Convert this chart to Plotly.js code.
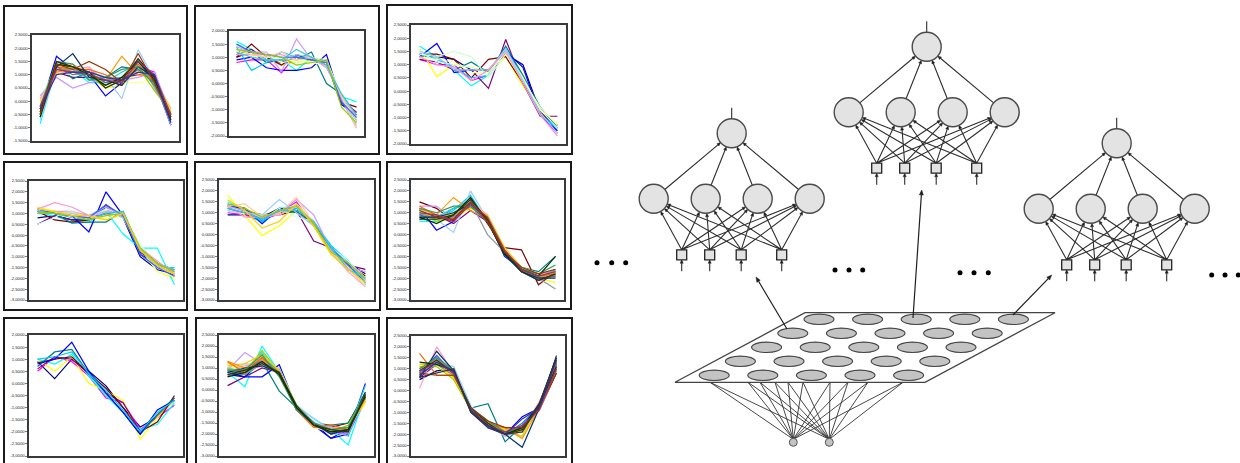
<!DOCTYPE html>
<html><head><meta charset="utf-8">
<script src="https://cdn.plot.ly/plotly-3.0.1.min.js"></script>
<style>html,body{margin:0;padding:0;background:#fff}#chart{width:1240px;height:463px}</style>
</head><body><div id="chart"></div>
<script>
// ---------------- DATA ----------------
const categories = [1,2,3,4,5,6,7,8,9];
const tickValues = [2.5,2,1.5,1,0.5,0,-0.5,-1,-1.5,-2,-2.5,-3];
const tickLabels = ["2,5000","2,0000","1,5000","1,0000","0,5000","0,0000","-0,5000","-1,0000","-1,5000","-2,0000","-2,5000","-3,0000"];
const seriesColors = ["#000080","#FF00FF","#FFFF00","#00FFFF","#800080","#800000","#008080","#0000FF","#00CCFF","#CCFFFF","#CCFFCC","#FFFF99","#99CCFF","#FF99CC","#CC99FF","#FFCC99","#3366FF","#33CCCC","#99CC00","#FFCC00","#FF9900","#FF6600","#666699","#969696","#003366","#339966","#003300","#333300","#993300","#993366","#333399","#333333"];
const panelRanges = [[-1.5,2.5],[-2,2],[-2,2.5],[-3,2.5],[-3,2.5],[-3,2.5],[-3,2],[-3,2.5],[-3,2.5]];

const panel1 = [
[-0.5,1.4,1.3,1.0,0.9,0.8,1.3,0.8,-0.9],[-0.2,1.2,1.1,1.2,0.8,0.7,1.3,1.1,-0.6],[0.0,1.0,1.3,1.0,0.5,0.6,1.1,0.7,-0.4],
[-0.85,1.3,1.2,0.7,0.7,0.7,1.5,1.0,-0.7],[-0.3,1.1,0.9,0.9,0.8,0.9,1.0,1.0,-0.5],[-0.6,1.5,1.3,1.1,0.8,0.6,1.6,0.8,-0.6],
[-0.4,1.4,0.85,1.1,0.9,1.3,1.2,0.9,-0.5],[-0.3,1.7,1.2,1.0,0.2,0.7,1.5,0.9,-0.9],[-0.5,1.2,1.3,0.8,0.8,0.7,1.6,0.6,-0.7],
[0.2,1.1,1.0,1.2,0.9,1.0,1.2,1.0,-0.3],[0.1,1.3,1.2,1.0,1.0,0.9,1.4,0.6,-0.2],[0.0,1.1,1.0,1.1,0.8,0.7,0.7,0.8,-0.4],
[-0.7,1.2,1.3,0.9,0.9,0.1,1.95,0.8,-0.9],[0.1,1.0,1.2,1.3,0.7,0.8,1.3,0.9,-0.3],[0.2,0.9,0.5,0.7,0.8,0.8,0.9,1.1,-0.5],
[0.0,1.3,1.4,1.0,0.6,0.9,1.1,0.8,-0.3],[-0.2,1.3,1.1,1.0,0.6,0.9,1.3,1.0,-0.8],[-0.5,1.2,1.1,0.9,0.7,1.1,1.4,0.8,-0.6],
[-0.4,1.4,1.3,1.0,0.5,0.8,1.3,0.4,-0.4],[-0.1,1.2,1.3,1.1,0.6,0.9,1.2,0.8,-0.3],[-0.3,1.1,1.2,1.0,0.8,1.7,1.0,0.9,-0.5],
[-0.4,1.3,1.2,1.2,1.0,0.7,1.4,0.7,-0.6],[-0.5,1.3,1.0,1.1,0.7,0.8,1.2,0.7,-0.8],[-0.6,1.2,1.2,1.0,0.8,0.9,1.6,0.5,-0.5],
[-0.3,1.3,1.8,0.9,0.8,0.6,1.3,0.9,-0.7],[-0.2,1.5,1.4,0.8,0.9,1.2,1.3,0.6,-0.5],[-0.6,1.4,1.3,1.0,0.6,0.9,1.5,0.8,-0.6],
[-0.4,1.5,1.3,1.1,0.5,0.8,1.6,0.9,-0.7],[-0.5,1.4,1.2,1.5,1.2,0.7,1.8,0.7,-0.6],[-0.2,1.2,1.1,1.0,0.8,0.7,1.5,1.0,-0.5],
[-0.3,1.0,1.1,1.1,0.9,0.8,1.1,1.0,-0.8]
];
const panel2 = [
[1.0,1.2,1.0,0.7,1.0,0.9,0.8,-0.8,-1.2],[0.8,0.9,0.9,0.4,1.1,0.9,0.9,-0.7,-1.1],[1.2,1.1,1.0,0.7,0.8,0.9,0.9,-0.6,-1.5],
[1.6,1.3,0.9,0.9,0.5,1.0,0.8,-0.5,-0.7],[1.1,1.3,0.9,0.8,1.0,0.9,0.9,-0.6,-1.1],[1.0,1.5,1.0,0.7,1.1,0.9,0.8,-0.7,-0.9],
[1.3,1.2,0.8,0.9,0.9,1.2,0.0,-0.4,-1.2],[0.9,1.0,0.6,0.5,0.5,0.6,1.1,-0.7,-1.4],[1.4,0.5,0.8,1.2,1.0,1.0,0.7,-0.5,-1.5],
[1.2,1.1,1.0,1.0,0.9,1.0,0.8,-0.4,-1.3],[1.3,1.2,1.0,1.0,0.8,1.0,0.9,-0.5,-1.4],[1.2,1.0,1.1,0.8,0.9,0.8,0.7,-0.6,-1.5],
[1.5,1.2,0.9,0.9,1.1,1.0,0.6,-0.5,-1.6],[1.1,1.1,1.1,1.1,0.9,1.0,0.6,-0.4,-1.3],[1.4,1.2,1.2,0.45,1.7,0.9,0.7,-0.6,-1.7],
[1.3,1.1,1.0,1.2,0.9,1.0,0.8,-0.5,-1.7],[1.5,1.2,1.1,1.0,1.0,0.9,0.8,-0.7,-1.3],[1.2,1.0,0.9,0.9,1.3,1.0,0.7,-0.4,-1.2],
[1.3,1.2,1.1,1.0,0.7,0.8,0.9,-0.9,-1.5]
];
const panel3 = [
[1.3,1.3,1.2,0.8,0.8,1.4,1.0,-0.8,-1.4],[1.2,1.0,1.0,0.4,0.6,1.5,0.4,-0.9,-1.6],[1.6,0.55,1.0,0.9,0.7,1.3,0.2,-0.7,-1.3],
[1.7,1.3,0.8,0.2,0.6,1.6,0.5,-0.9,-1.5],[1.2,1.1,0.8,0.8,0.1,1.95,0.3,-0.95,-0.95],[1.4,1.4,1.2,0.5,1.2,1.3,0.3,-0.8,-1.3],
[1.4,1.3,0.8,1.1,0.7,1.7,0.6,-0.6,-1.4],[1.3,1.8,0.7,0.8,0.8,1.5,0.9,-0.9,-1.5],[1.4,1.2,0.9,0.5,0.6,1.6,0.5,-0.9,-1.4],
[1.5,1.1,1.0,0.9,0.6,1.5,0.4,-0.7,-1.4],[1.4,1.3,1.5,1.3,0.5,1.4,0.4,-0.6,-1.3],[1.3,1.2,1.1,0.7,0.7,1.5,0.5,-0.7,-1.2],
[1.5,1.3,0.8,0.8,0.8,1.6,0.4,-0.8,-1.6],[1.3,1.0,0.9,0.4,0.8,1.5,0.3,-0.9,-1.7]
];
const panel4 = [
[0.8,0.9,0.7,0.7,1.4,0.8,-1.0,-1.6,-1.8],[1.1,1.0,0.9,0.8,1.0,0.9,-0.7,-1.4,-1.8],[1.3,1.1,1.0,0.9,0.7,1.0,-0.6,-1.7,-2.0],
[1.0,0.9,0.6,0.6,1.1,0.05,-0.6,-0.6,-2.3],[0.5,0.9,0.7,0.7,1.0,0.9,-0.8,-1.3,-1.6],[1.1,0.7,0.6,0.7,1.3,0.9,-0.6,-1.3,-1.9],
[1.1,1.0,0.55,0.6,0.6,1.1,-0.7,-1.5,-1.6],[1.1,1.0,0.9,0.15,2.0,0.9,-0.9,-1.3,-1.7],[1.2,1.0,1.0,0.9,1.2,0.8,-0.6,-1.5,-1.5],
[0.5,0.8,1.3,0.9,1.1,0.9,-0.4,-1.5,-1.8],[1.1,1.0,1.0,0.8,1.2,1.0,-0.5,-1.4,-1.7],[1.2,1.1,1.0,0.9,0.8,0.8,-0.6,-1.7,-1.9],
[1.0,1.1,1.0,0.8,1.1,0.8,-0.7,-1.3,-1.6],[1.2,1.5,1.3,0.9,1.1,1.0,-0.6,-1.2,-1.8],[1.0,1.1,1.1,0.9,1.3,0.9,-0.7,-1.3,-1.7],
[1.3,1.0,1.1,0.8,0.9,1.0,-0.6,-1.5,-1.8],[1.2,1.0,0.9,0.8,1.4,0.9,-0.9,-1.5,-1.9],[1.1,1.0,0.8,0.7,1.0,1.1,-0.7,-1.4,-1.6],
[1.0,1.0,0.9,0.7,0.9,1.0,-0.6,-1.3,-1.7],[1.2,1.1,0.9,0.9,0.7,1.0,-0.7,-1.4,-1.8]
];
const panel5 = [
[0.9,0.9,0.8,1.2,1.1,0.4,-0.6,-1.3,-1.8],[1.0,0.9,0.6,1.0,1.5,0.4,-0.7,-1.6,-2.1],[1.8,0.9,-0.05,0.4,1.1,0.4,-0.9,-1.5,-2.1],
[1.5,1.1,0.5,1.2,1.3,0.6,-0.5,-1.2,-2.3],[1.3,1.1,0.9,1.0,1.1,-0.3,-0.6,-1.4,-1.6],[1.3,1.0,0.8,0.9,1.1,0.5,-0.6,-1.4,-1.9],
[1.4,1.2,0.6,1.1,1.0,0.5,-0.7,-1.2,-2.3],[1.3,1.2,0.5,1.2,1.1,0.6,-0.6,-1.4,-2.0],[1.2,1.1,0.6,1.1,1.2,0.5,-0.5,-1.3,-2.2],
[1.3,1.0,0.7,1.2,0.8,0.6,-0.6,-1.2,-2.0],[1.2,1.0,0.8,1.0,1.4,0.6,-0.7,-1.5,-2.3],[1.1,1.0,0.9,0.9,1.3,0.5,-0.7,-1.6,-2.2],
[1.1,1.0,0.9,1.6,1.0,0.4,-0.6,-1.3,-2.1],[1.3,0.8,0.8,0.9,1.3,0.6,-0.8,-1.7,-2.4],[1.3,1.1,0.7,1.0,1.6,0.9,-0.7,-1.5,-1.7],
[1.3,1.4,0.8,1.0,1.7,0.5,-0.8,-1.5,-2.4],[1.2,1.0,0.7,1.1,1.3,0.5,-0.6,-1.4,-2.2],[1.2,1.0,0.7,1.1,1.1,0.6,-0.6,-1.6,-2.0],
[1.4,1.2,0.8,1.1,1.3,0.5,-0.8,-1.3,-2.0],[1.6,1.1,0.3,0.6,1.4,0.4,-0.9,-1.6,-2.2]
];
const panel6 = [
[0.7,0.9,0.8,1.3,0.6,-0.9,-1.6,-2.0,-1.9],[1.2,0.8,0.6,1.4,0.7,-0.8,-1.6,-2.0,-1.6],[1.1,0.6,0.7,1.2,0.9,-0.7,-1.5,-2.0,-2.2],
[0.6,0.6,1.0,1.6,0.8,-0.9,-1.7,-2.1,-1.6],[0.9,0.9,0.5,1.1,0.6,-0.9,-1.6,-1.9,-1.7],[1.5,1.2,0.6,1.7,0.5,-0.6,-0.7,-2.3,-1.7],
[1.1,0.7,1.2,1.4,0.7,-0.8,-1.5,-1.7,-1.0],[1.2,0.2,0.6,1.5,0.7,-1.0,-1.6,-2.1,-1.8],[1.0,0.7,1.1,1.8,0.6,-0.9,-1.7,-2.0,-1.7],
[1.1,0.9,0.9,1.3,0.8,-0.8,-1.5,-1.9,-1.6],[1.0,1.0,0.9,1.4,0.6,-0.7,-1.6,-1.9,-1.8],[1.2,0.8,0.9,1.2,0.9,-0.6,-1.5,-1.8,-1.7],
[0.9,0.7,0.1,2.0,0.7,-0.8,-1.6,-2.0,-1.9],[1.0,0.8,0.8,1.5,0.9,-0.7,-1.6,-2.1,-1.6],[1.3,1.3,0.7,1.4,0.7,-0.8,-1.5,-1.8,-1.7],
[1.2,0.8,1.0,1.6,0.8,-0.7,-1.6,-1.9,-1.8],[0.9,0.7,0.9,1.5,0.6,-0.9,-1.7,-2.1,-1.9],[1.1,0.8,1.2,1.6,0.6,-0.8,-1.5,-2.0,-1.6],
[1.0,0.6,0.9,1.3,0.8,-0.7,-1.6,-1.9,-1.8],[1.1,0.7,1.0,1.2,0.9,-0.6,-1.5,-1.8,-2.0],[1.2,0.9,1.7,1.1,0.7,-0.8,-1.6,-2.0,-1.7],
[1.3,0.9,0.7,1.4,0.8,-0.8,-1.7,-1.9,-1.8],[0.8,0.8,0.8,1.3,0.6,-0.9,-1.6,-2.0,-1.9],[1.0,0.7,0.8,1.5,0.0,-0.8,-1.6,-2.0,-2.5],
[0.8,0.8,1.0,1.4,0.7,-0.9,-1.7,-2.0,-2.0],[1.2,1.0,1.3,1.3,0.7,-0.8,-1.6,-1.8,-1.4],[0.8,0.5,0.9,1.7,0.6,-0.9,-1.6,-1.9,-1.0],
[0.7,0.7,0.9,1.6,0.7,-0.8,-1.7,-2.1,-1.8],[1.1,0.8,0.7,1.5,0.6,-0.8,-1.5,-1.8,-1.6],[1.0,0.9,0.6,1.4,0.8,-0.7,-1.6,-1.9,-1.7]
];
const panel7 = [
[0.9,0.2,1.0,0.5,-0.1,-1.0,-1.8,-1.4,-0.7],[0.5,1.1,0.9,0.3,-0.6,-0.8,-1.9,-1.4,-0.9],[1.0,0.5,1.1,0.0,-0.3,-0.7,-2.3,-1.4,-0.7],
[1.0,0.8,1.2,0.3,-0.5,-1.2,-1.9,-1.7,-0.8],[0.6,1.1,1.0,0.4,-0.4,-0.8,-2.0,-1.3,-0.6],[0.85,1.0,1.1,0.4,-0.2,-1.0,-2.0,-1.6,-0.5],
[0.7,1.3,1.4,0.4,-0.4,-1.2,-2.1,-1.3,-0.6],[0.8,1.0,1.7,0.5,-0.4,-1.2,-2.1,-1.1,-0.7],[1.0,1.1,1.3,0.4,-0.3,-1.1,-2.0,-1.2,-0.7]
];
const panel8 = [
[0.7,0.6,1.3,0.9,-0.9,-1.5,-2.2,-1.8,-0.4],[0.6,0.9,1.1,0.8,-0.8,-1.6,-1.9,-2.0,-0.5],[1.2,0.8,1.5,0.9,-0.7,-1.7,-1.8,-1.7,-0.6],
[0.8,0.15,2.0,0.8,-0.8,-1.3,-1.8,-2.5,-0.2],[0.2,0.6,1.0,0.8,-0.9,-1.6,-1.9,-1.9,-0.3],[1.0,0.7,1.5,0.7,-0.7,-1.5,-1.7,-1.5,-0.2],
[0.8,0.7,1.3,-0.05,-0.8,-1.5,-1.6,-1.5,-0.1],[0.8,0.6,0.6,1.15,-0.8,-1.6,-2.2,-2.0,0.3],[1.0,0.9,1.4,0.9,-0.7,-1.5,-1.7,-2.1,-0.2],
[1.0,1.0,1.3,0.9,-0.6,-1.4,-1.8,-1.9,-0.3],[1.1,0.8,1.6,0.8,-0.8,-1.6,-1.8,-1.7,-0.4],[0.9,1.0,1.2,0.8,-0.7,-1.7,-1.9,-1.6,-0.5],
[0.7,1.2,1.1,1.0,-0.7,-1.3,-1.8,-1.9,-0.3],[0.8,1.1,1.3,0.7,-0.7,-1.5,-1.7,-1.8,-0.2],[0.9,1.7,1.2,0.8,-0.8,-1.6,-2.0,-2.0,-0.3],
[1.2,1.0,1.5,0.8,-0.9,-1.6,-1.9,-1.6,-0.4],[0.9,0.8,1.4,0.9,-0.8,-1.5,-2.0,-1.8,-0.3],[0.9,0.9,1.7,0.7,-0.7,-1.5,-1.8,-1.9,0.2],
[1.0,0.8,1.8,0.8,-0.8,-1.5,-1.9,-1.6,-0.2],[1.1,1.2,1.6,0.9,-0.7,-1.6,-1.9,-1.7,-0.5],[1.3,1.0,1.4,0.8,-0.8,-1.6,-1.8,-1.8,-0.4],
[1.28,0.8,1.5,0.7,-0.9,-1.7,-1.6,-1.8,-0.3],[0.8,0.9,1.3,0.8,-0.9,-1.6,-1.9,-1.9,-0.2],[0.9,0.7,1.2,0.7,-0.8,-1.5,-1.8,-1.7,-0.3],
[0.8,1.0,1.1,0.8,-0.8,-1.5,-2.0,-1.8,-0.1],[0.9,0.9,1.6,0.6,-0.9,-1.5,-1.8,-1.7,-0.2],[0.6,0.8,1.3,0.7,-0.8,-1.6,-1.9,-1.8,-0.3],
[0.7,0.9,1.2,0.8,-0.7,-1.6,-1.8,-1.9,-0.2]
];
const panel9 = [
[0.5,0.9,1.0,-0.9,-1.6,-2.0,-1.9,-0.8,1.3],[0.9,1.6,0.7,-0.8,-1.5,-1.9,-1.8,-0.6,1.0],[1.1,1.3,0.5,-0.9,-1.4,-1.9,-1.7,-0.8,1.1],
[1.0,1.5,0.9,-0.8,-1.5,-1.9,-2.1,-0.6,1.2],[0.6,1.2,0.7,-0.9,-1.6,-2.0,-1.7,-0.7,1.0],[0.9,1.4,0.8,-0.8,-1.5,-1.8,-1.8,-0.9,0.8],
[0.9,1.5,0.7,-0.8,-0.6,-2.35,-1.6,-0.7,1.1],[0.7,1.3,0.8,-0.9,-1.6,-2.0,-1.2,-0.8,1.3],[0.8,1.2,0.9,-0.8,-1.4,-1.9,-1.6,-0.8,1.2],
[0.9,1.3,0.9,-0.7,-1.5,-1.8,-1.7,-0.6,1.1],[1.0,1.4,1.0,-0.8,-1.4,-1.8,-1.9,-0.5,1.2],[1.1,1.2,0.6,-0.9,-1.5,-1.9,-1.8,-0.7,1.0],
[0.8,1.3,1.1,-0.7,-1.6,-2.0,-1.7,-0.6,1.3],[0.1,2.0,0.8,-0.9,-1.4,-1.9,-1.9,-0.5,1.1],[0.7,1.5,0.9,-0.8,-1.6,-2.1,-1.8,-0.6,1.2],
[1.2,1.3,0.7,-0.9,-1.5,-1.9,-1.8,-0.9,0.9],[0.8,1.6,0.8,-0.9,-1.5,-2.0,-1.5,-0.7,1.4],[1.0,1.4,0.8,-0.8,-1.6,-1.9,-1.7,-0.8,1.1],
[1.1,1.1,0.5,-0.9,-1.5,-1.8,-1.9,-0.7,1.0],[1.2,1.2,0.6,-0.8,-1.5,-1.8,-2.1,-0.6,1.0],[1.0,1.4,0.9,-0.9,-1.6,-1.7,-2.2,-0.8,1.1],
[1.7,0.7,0.7,-0.8,-1.5,-1.7,-1.8,-0.7,1.2],[0.9,1.3,0.8,-0.9,-1.5,-2.0,-1.8,-0.8,1.2],[0.8,1.2,0.7,-0.8,-1.5,-1.9,-1.7,-0.7,0.9],
[0.6,1.8,0.9,-1.0,-1.7,-2.0,-2.6,-0.8,1.6],[1.0,1.5,0.9,-0.8,-1.4,-1.9,-1.7,-0.7,1.0],[1.3,1.2,0.9,-0.9,-1.6,-2.0,-1.7,-0.6,1.5],
[0.9,1.4,0.8,-0.8,-1.5,-2.0,-1.8,-0.7,1.1],[0.8,0.7,0.7,-0.8,-1.4,-1.7,-1.7,-0.8,0.8],[0.9,1.3,0.8,-0.9,-1.6,-1.9,-1.6,-0.9,1.0],
[0.7,1.3,0.9,-0.9,-1.7,-2.0,-1.3,-0.8,1.4],[0.6,0.8,1.0,-1.0,-1.6,-2.0,-1.9,-0.6,1.5]
];
const panels = [panel1,panel2,panel3,panel4,panel5,panel6,panel7,panel8,panel9];

// ---------------- LAYOUT GEOMETRY (pixels) ----------------
const W = 1240, H = 463;
const frames = [[4,6,187,154],[195,6,379,154],[387,5,572,154],[4,162,187,310],[195,162,380,310],[387,162,571,309],[4,318,187,470],[196,318,379,470],[387,318,572,470]];
const plotBoxes = [[32,35,179,141],[229,31,364,136],[411,25,566,144],[29,181,183,300],[219,180,374,300],[411,180,564,300],[29,335,183,456],[219,335,374,456],[411,336,565,456]];

const traces = [];
const layout = {
  width: W, height: H, margin: {l:0,r:0,t:0,b:0},
  paper_bgcolor: '#ffffff', plot_bgcolor: 'rgba(0,0,0,0)',
  showlegend: false, shapes: [], annotations: []
};

panels.forEach((series, p) => {
  const xk = p === 0 ? 'x' : 'x' + (p+1);
  const yk = p === 0 ? 'y' : 'y' + (p+1);
  const [bx0, by0, bx1, by1] = plotBoxes[p];
  const [lo, hi] = panelRanges[p];
  const tv = [], tt = [];
  tickValues.forEach((v, i) => { if (v >= lo - 1e-9 && v <= hi + 1e-9) { tv.push(v); tt.push(tickLabels[i]); } });
  layout[(p === 0 ? 'xaxis' : 'xaxis' + (p+1))] = {
    domain: [bx0 / W, bx1 / W], anchor: yk, range: [0.5, 9.5],
    showgrid: false, zeroline: false, showticklabels: false, ticks: '',
    showline: true, mirror: true, linecolor: '#3a3a3a', linewidth: 1.6, fixedrange: true
  };
  layout[(p === 0 ? 'yaxis' : 'yaxis' + (p+1))] = {
    domain: [1 - by1 / H, 1 - by0 / H], anchor: xk, range: [lo, hi],
    tickmode: 'array', tickvals: tv, ticktext: tt, ticks: 'outside', ticklen: 2, tickwidth: 0.7, tickcolor: '#444',
    tickfont: {size: 4.2, color: '#222', family: 'Liberation Sans, Arial, sans-serif'},
    showgrid: false, zeroline: false, showline: true, mirror: true, linecolor: '#3a3a3a', linewidth: 1.6, fixedrange: true
  };
  series.forEach((vals, s) => {
    traces.push({
      type: 'scatter', mode: 'lines', x: categories, y: vals, xaxis: xk, yaxis: yk,
      line: {color: seriesColors[s % seriesColors.length], width: 1.2}, hoverinfo: 'skip', showlegend: false
    });
  });
  const [fx0, fy0, fx1, fy1] = frames[p];
  layout.shapes.push({type: 'rect', xref: 'paper', yref: 'paper', x0: fx0 / W, x1: fx1 / W, y0: 1 - fy1 / H, y1: 1 - fy0 / H,
    line: {color: '#1a1a1a', width: 2}, fillcolor: 'rgba(0,0,0,0)', layer: 'above'});
});

// ---------------- DIAGRAM (overlay axis in pixel units) ----------------
layout.xaxis10 = {domain: [0,1], range: [0, W], visible: false, anchor: 'y10', fixedrange: true};
layout.yaxis10 = {domain: [0,1], range: [H, 0], visible: false, anchor: 'x10', fixedrange: true};
const DX = 'x10', DY = 'y10';
const f = v => v.toFixed(2);
let edgePath = '', headPath = '', bigHeadPath = '', bigEdgePath = '';
function arrow(px, py, qx, qy, L, w, big) {
  const dx = qx - px, dy = qy - py, len = Math.hypot(dx, dy);
  const ux = dx / len, uy = dy / len, nx = -uy, ny = ux;
  const bx = qx - L * ux, by = qy - L * uy;
  const seg = `M${f(px)},${f(py)}L${f(bx)},${f(by)}`;
  const tri = `M${f(qx)},${f(qy)}L${f(bx + w*nx)},${f(by + w*ny)}L${f(bx - w*nx)},${f(by - w*ny)}Z`;
  if (big) { bigEdgePath += seg; bigHeadPath += tri; } else { edgePath += seg; headPath += tri; }
}
function plainLine(px, py, qx, qy) { edgePath += `M${f(px)},${f(py)}L${f(qx)},${f(qy)}`; }

const nets = [{cx: 731.7, cy: 133.3}, {cx: 926.7, cy: 46.7}, {cx: 1116.7, cy: 143.3}];
const hiddenDx = [-78, -26, 26, 78], hiddenDy = 65.5;
const inputDx = [-50, -22, 9.5, 50], inputDy = 121.5;
const R = 14.5, SQ = 5;
const nodeShapes = [];
nets.forEach(n => {
  const hid = hiddenDx.map(d => [n.cx + d, n.cy + hiddenDy]);
  const inp = inputDx.map(d => [n.cx + d, n.cy + inputDy]);
  inp.forEach(([ix, iy]) => {
    hid.forEach(([hx, hy]) => {
      const px = ix, py = iy - SQ;
      const dx = px - hx, dy = py - hy, len = Math.hypot(dx, dy);
      arrow(px, py, hx + R * dx / len, hy + R * dy / len, 3.5, 1.5, false);
    });
    arrow(ix, iy + 16.5, ix, iy + SQ, 3.5, 1.5, false);
  });
  hid.forEach(([hx, hy]) => {
    const dx = n.cx - hx, dy = n.cy - hy, len = Math.hypot(dx, dy);
    const ux = dx / len, uy = dy / len;
    arrow(hx + R * ux, hy + R * uy, n.cx - R * ux, n.cy - R * uy, 3.5, 1.5, false);
  });
  plainLine(n.cx, n.cy - R, n.cx, n.cy - 25.5);
  [[n.cx, n.cy]].concat(hid).forEach(([x, y]) => nodeShapes.push({type: 'circle', xref: DX, yref: DY,
    x0: x - R, x1: x + R, y0: y - R, y1: y + R, fillcolor: '#e3e3e3', line: {color: '#4a4a4a', width: 1.4}}));
  inp.forEach(([x, y]) => nodeShapes.push({type: 'rect', xref: DX, yref: DY,
    x0: x - SQ, x1: x + SQ, y0: y - SQ, y1: y + SQ, fillcolor: '#e3e3e3', line: {color: '#222', width: 1.3}}));
});

// SOM grid
const somShapes = [];
const para = [[805, 312.7], [1055, 312.7], [925, 382.3], [675, 382.3]];
const somInputs = [[793.3, 442.3], [829.3, 442.3]];
const fanTargets = [710, 748, 760, 775, 788, 803, 830, 848, 868, 903];
let fanPath = '';
somInputs.forEach(([ix, iy]) => fanTargets.forEach(tx => { fanPath += `M${f(ix)},${f(iy - 3)}L${f(tx)},382.3`; }));
somShapes.push({type: 'path', xref: DX, yref: DY, path: fanPath, line: {color: '#333', width: 0.9}});
somShapes.push({type: 'path', xref: DX, yref: DY, path: `M${para.map(p => p.join(',')).join('L')}Z`,
  fillcolor: '#ffffff', line: {color: '#444', width: 1.3}});
for (let r = 0; r < 5; r++) {
  for (let c = 0; c < 5; c++) {
    const x = 819 - 26.2 * r + 48.6 * c, y = 319.3 + 14 * r;
    somShapes.push({type: 'circle', xref: DX, yref: DY, x0: x - 15, x1: x + 15, y0: y - 5.2, y1: y + 5.2,
      fillcolor: '#c3c3c3', line: {color: '#444', width: 1.1}});
  }
}
somInputs.forEach(([x, y]) => somShapes.push({type: 'circle', xref: DX, yref: DY, x0: x - 4, x1: x + 4, y0: y - 4, y1: y + 4,
  fillcolor: '#c3c3c3', line: {color: '#555', width: 1}}));
arrow(787, 329, 756, 277, 5, 2, true);
arrow(913, 318, 921.7, 190, 5, 2, true);
arrow(1013, 315, 1051.7, 275, 5, 2, true);

layout.shapes.push({type: 'path', xref: DX, yref: DY, path: edgePath, line: {color: '#2e2e2e', width: 1.1}});
layout.shapes.push({type: 'path', xref: DX, yref: DY, path: headPath, fillcolor: '#1e1e1e', line: {color: '#1e1e1e', width: 0.5}});
layout.shapes.push(...nodeShapes);
layout.shapes.push(...somShapes);
layout.shapes.push({type: 'path', xref: DX, yref: DY, path: bigEdgePath, line: {color: '#1e1e1e', width: 1.2}});
layout.shapes.push({type: 'path', xref: DX, yref: DY, path: bigHeadPath, fillcolor: '#1e1e1e', line: {color: '#1e1e1e', width: 0.5}});

const dotX = [597, 611.7, 625.7, 835, 849, 862.7, 960, 974, 988.3, 1211.7, 1225, 1238.3];
const dotY = [262.7, 262.7, 262.7, 270, 270, 270, 272.7, 272.7, 272.7, 275, 275, 275];
traces.push({type: 'scatter', mode: 'markers', x: dotX, y: dotY, xaxis: DX, yaxis: DY,
  marker: {color: '#000', size: 5}, hoverinfo: 'skip', showlegend: false, cliponaxis: false});

Plotly.newPlot('chart', traces, layout, {staticPlot: true, displayModeBar: false});
</script>
</body></html>
